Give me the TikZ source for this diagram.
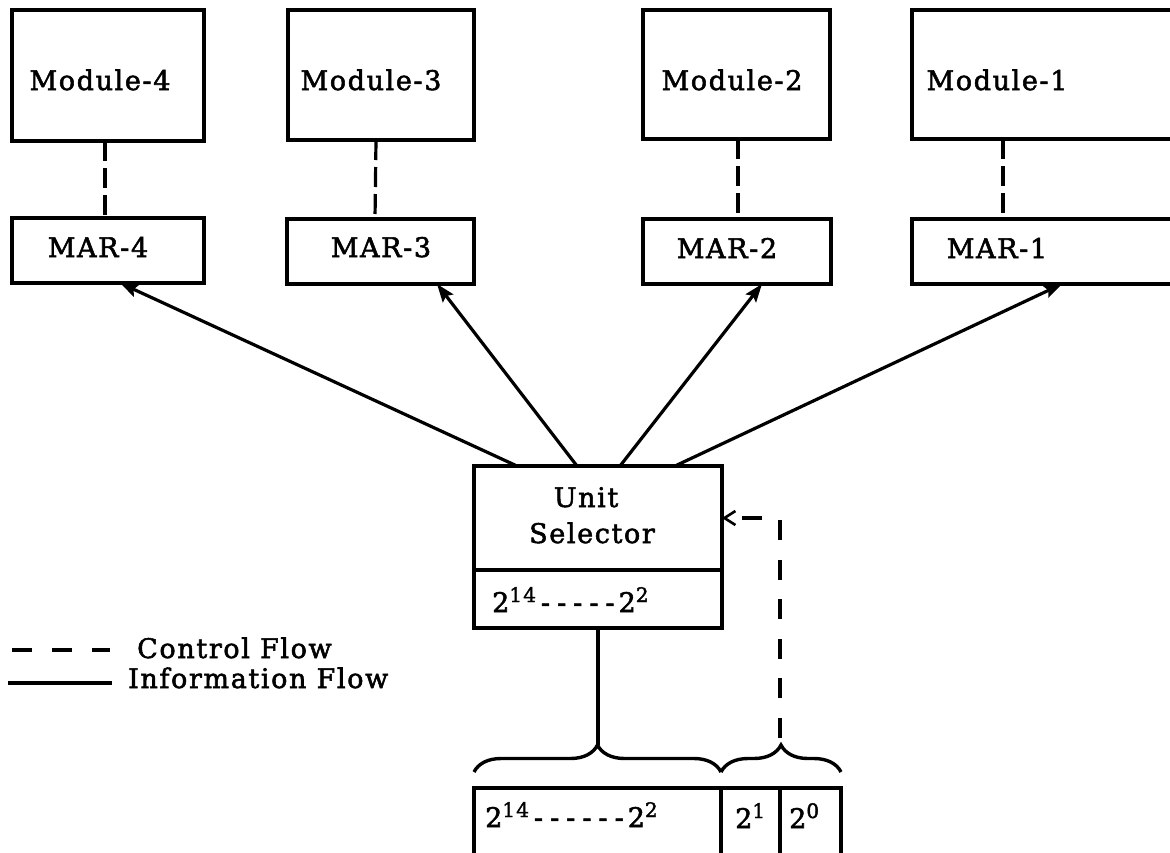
\documentclass[tikz,border=0pt]{standalone}
\usepackage{fontspec}
\setmainfont{DejaVu Serif}[LetterSpace=6, FakeBold=2]
\usetikzlibrary{arrows.meta,calc,decorations.pathreplacing}

\tikzset{
  box/.style={draw, line width=3.6pt, inner sep=0pt, outer sep=0pt},
  lbl/.style={font=\fontsize{27}{30}\selectfont, inner sep=0pt, anchor=base},
  info/.style={line width=3.4pt},
  infoarrow/.style={line width=3.2pt, -{Stealth[length=18pt,width=13pt,inset=3pt]}},
  ctrl/.style={line width=3.2pt, dash pattern=on 20pt off 7pt},
  ctrlarrow/.style={line width=3.2pt, dash pattern=on 20pt off 19.6pt, dash phase=30.6pt,
    -{Straight Barb[length=11pt,width=14pt,line width=2.6pt]}},
  curly/.style={line width=3.4pt, decorate, decoration={brace, amplitude=27pt}},
}
% superscripted power of two, as typed in the register fields
\newcommand{\pwr}[2]{#1\raisebox{10pt}{\fontsize{20}{20}\selectfont #2}}
\newcommand{\dsh}{\kern5pt-\kern2pt}

\begin{document}
\begin{tikzpicture}[x=1pt,y=-1pt]
\useasboundingbox (0,0) rectangle (1170,852);
\fill[white] (0,0) rectangle (1170,852);
\clip (0,0) rectangle (1170,852);

% memory modules
\node[box, minimum width=192pt, minimum height=131pt] (m4) at (108,75.5) {};
\node[box, minimum width=186pt, minimum height=130pt] (m3) at (381,75) {};
\node[box, minimum width=187pt, minimum height=129pt] (m2) at (736.5,74.5) {};
\node[box, minimum width=290pt, minimum height=129pt] (m1) at (1057,74.5) {};
\node[lbl] (tm4) at (100,90) {Module-4};
\node[lbl] (tm3) at (371,90) {Module-3};
\node[lbl] (tm2) at (732,90) {Module-2};
\node[lbl] (tm1) at (997,90) {Module-1};

% memory address registers
\node[box, minimum width=192pt, minimum height=65pt] (mar4) at (108,250.5) {};
\node[box, minimum width=187pt, minimum height=65pt] (mar3) at (380.5,251.5) {};
\node[box, minimum width=188pt, minimum height=65pt] (mar2) at (737,251.5) {};
\node[box, minimum width=290pt, minimum height=65pt] (mar1) at (1057,251.5) {};
\node[lbl] (tr4) at (98,257) {MAR-4};
\node[lbl] (tr3) at (381,257) {MAR-3};
\node[lbl] (tr2) at (727,258) {MAR-2};
\node[lbl] (tr1) at (997,258) {MAR-1};

% control links module -> MAR
\draw[ctrl] ($(m4.south west)+(93,0)$) -- ($(mar4.north west)+(93,0)$);
\draw[ctrl] ($(m3.south west)+(88,0)$) -- ($(mar3.north west)+(88,0)$);
\draw[ctrl] ($(m2.south west)+(95,0)$) -- ($(mar2.north west)+(95,0)$);
\draw[ctrl] ($(m1.south west)+(91,0)$) -- ($(mar1.north west)+(91,0)$);

% unit selector
\node[box, minimum width=248pt, minimum height=104pt] (ustop) at (598,518) {};
\node[box, minimum width=248pt, minimum height=58pt] (usbot) at (598,599) {};
\node[lbl] (tunit) at (586,507) {Unit};
\node[lbl] (tsel) at (592,543) {Selector};
\node[lbl, anchor=base west] (tusbits) at (492,612) {\pwr{2}{14}\dsh\dsh\dsh\dsh\dsh\kern2pt\pwr{2}{2}};

% information flow to the address registers
\draw[infoarrow] ($(ustop.north west)+(43,0)$) -- ($(mar4.south west)+(108,0)$);
\draw[infoarrow] ($(ustop.north west)+(103,0)$) -- ($(mar3.south west)+(150,0)$);
\draw[infoarrow] ($(ustop.north west)+(146,0)$) -- ($(mar2.south west)+(119,0)$);
\draw[infoarrow] ($(ustop.north west)+(201,0)$) -- ($(mar1.south west)+(150,0)$);

% address word
\node[box, minimum width=247pt, minimum height=82pt] (rA) at (597.5,829) {};
\node[box, minimum width=59pt, minimum height=82pt] (rB) at (750.5,829) {};
\node[box, minimum width=61pt, minimum height=82pt] (rC) at (810.5,829) {};
\node[lbl, anchor=base west] (trA) at (485,827) {\pwr{2}{14}\dsh\dsh\dsh\dsh\dsh\dsh\kern2pt\pwr{2}{2}};
\node[lbl, anchor=base west] (trB) at (735,828) {\pwr{2}{1}};
\node[lbl, anchor=base west] (trC) at (789,828) {\pwr{2}{0}};

% field braces
\draw[curly] ($(rA.north west)+(0,-16)$) -- ($(rA.north east)+(0,-16)$);
\draw[curly] ($(rB.north west)+(0,-16)$) -- ($(rC.north east)+(0,-16)$);
\coordinate (hibits) at ($(rA.north)+(0,-43)$);
\coordinate (lobits) at ($(rB.north east)+(0,-41)$);

\draw[info] (usbot.south) -- (usbot.south |- hibits);
\draw[ctrlarrow] (lobits) |- (ustop.east);

% legend
\coordinate (lc1) at (12,650);
\coordinate (lc2) at (110,650);
\coordinate (li1) at (8,683);
\coordinate (li2) at (112,683);
\draw[line width=3.4pt, dash pattern=on 20pt off 20pt] (lc1) -- (lc2);
\draw[info] (li1) -- (li2);
\node[lbl, anchor=base west] (tlc) at (137,658) {Control Flow};
\node[lbl, anchor=base west] (tli) at (128,688) {Information Flow};
\end{tikzpicture}
\end{document}
